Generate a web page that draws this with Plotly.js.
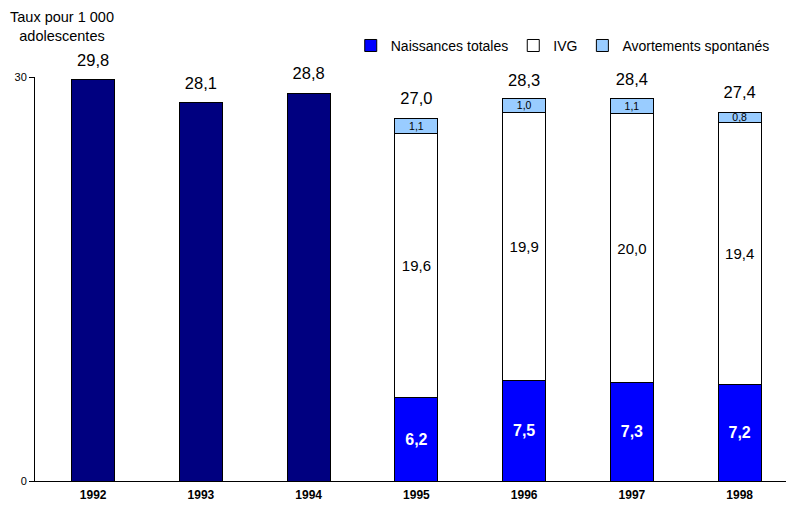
<!DOCTYPE html>
<html><head><meta charset="utf-8">
<script src="https://cdn.plot.ly/plotly-3.0.1.min.js"></script>
<style>body{margin:0}#c{width:786px;height:505px}</style>
</head><body><div id="c"></div>
<script>
const years = ['1992','1993','1994','1995','1996','1997','1998'];
const earlyYears = ['1992','1993','1994'];
const earlyTotals = [29.8, 28.1, 28.8];
const lateYears = ['1995','1996','1997','1998'];
const naissances = [6.2, 7.5, 7.3, 7.2];
const ivg = [19.6, 19.9, 20.0, 19.4];
const spontanes = [1.1, 1.0, 1.1, 0.8];
const lateTotals = [27.0, 28.3, 28.4, 27.4];

const fmt = v => v.toFixed(1).replace('.', ',');
const FONT = 'Liberation Sans, Arial, sans-serif';
const line = {color: '#000', width: 1};
const W = 0.4;

const allYears = earlyYears.concat(lateYears);
const allTotals = earlyTotals.concat(lateTotals);

const traces = [
  {type:'bar', x: earlyYears, y: earlyTotals, width: W, marker:{color:'#000080', line}, showlegend:false, hoverinfo:'skip'},
  {type:'bar', name:'Naissances totales', x: lateYears, y: naissances, width: W, marker:{color:'#0000FF', line},
   text: naissances.map(fmt), textposition:'inside', insidetextanchor:'middle', constraintext:'none',
   textfont:{color:'#fff', size:16, family:FONT, weight:'bold'}},
  {type:'bar', name:'IVG', x: lateYears, y: ivg, width: W, marker:{color:'#FFFFFF', line},
   text: ivg.map(fmt), textposition:'inside', insidetextanchor:'middle', constraintext:'none',
   textfont:{color:'#000', size:15, family:FONT}},
  {type:'bar', name:'Avortements spontanés', x: lateYears, y: spontanes, width: W, marker:{color:'#99CCFF', line},
   text: spontanes.map(fmt), textposition:'inside', insidetextanchor:'middle', constraintext:'none',
   textfont:{color:'#000', size:10.5, family:FONT}},
  {type:'scatter', mode:'markers+text', x: allYears, y: allTotals, text: allTotals.map(fmt),
   textposition:'top center', cliponaxis:false, marker:{size:14, opacity:0, color:'#fff'},
   textfont:{size:16.5, color:'#000', family:FONT}, showlegend:false, hoverinfo:'skip'}
];

const layout = {
  width:786, height:505,
  margin:{l:35, r:0, t:77, b:24},
  barmode:'stack',
  paper_bgcolor:'#fff', plot_bgcolor:'#fff',
  font:{family:FONT, color:'#000'},
  xaxis:{type:'category', categoryorder:'array', categoryarray: years, range:[-0.54, 6.43],
    showline:true, linecolor:'#000', linewidth:1, ticks:'', showgrid:false,
    tickfont:{size:12, weight:'bold', family:FONT}, ticklabelstandoff:3},
  yaxis:{range:[0,30], tickvals:[0,30], showline:true, linecolor:'#000', linewidth:1,
    ticks:'outside', ticklen:5, tickcolor:'#000', showgrid:false, zeroline:false,
    tickfont:{size:11, family:FONT}},
  legend:{orientation:'h', traceorder:'normal', x:0.985, xanchor:'right', y:1.077, yanchor:'middle',
    font:{size:14, family:FONT}, itemwidth:30, bgcolor:'rgba(0,0,0,0)'},
  annotations:[{xref:'paper', yref:'paper', x:0.036, y:1.126, xanchor:'center', yanchor:'middle',
    text:'Taux pour 1 000<br>adolescentes', showarrow:false, font:{size:14.5, family:FONT}}]
};
Plotly.newPlot('c', traces, layout, {displayModeBar:false, staticPlot:true});
</script></body></html>
